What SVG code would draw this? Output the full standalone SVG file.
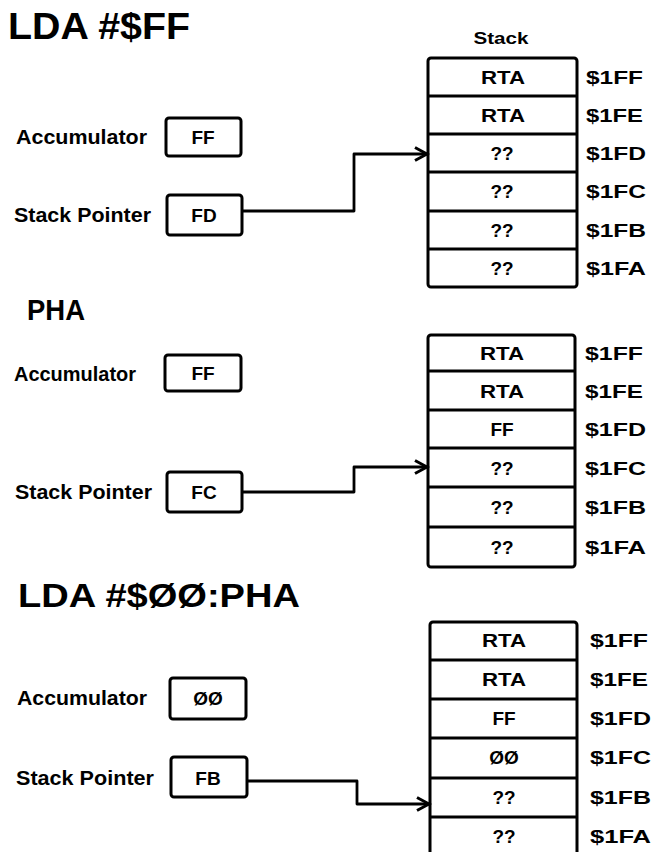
<svg xmlns="http://www.w3.org/2000/svg" width="655" height="852" viewBox="0 0 655 852">
<defs>
<marker id="arr" markerWidth="16" markerHeight="16" refX="13" refY="8" orient="auto" markerUnits="userSpaceOnUse">
<path d="M1,1.5 L13,8 L1,14.5" fill="none" stroke="#000" stroke-width="3" stroke-linejoin="miter"/>
</marker>
</defs>
<style>
text{font-family:"Liberation Sans",Arial,sans-serif;font-weight:bold;fill:#000}
.title{font-size:37px}
.lbl{font-size:20px}
.val{font-size:19px;text-anchor:middle}
.addr{font-size:19px}
.box{fill:#fff;stroke:#000;stroke-width:3}
.div{stroke:#000;stroke-width:3}
.conn{fill:none;stroke:#000;stroke-width:2.8;stroke-linejoin:round}
</style>
<rect width="655" height="852" fill="#fff"/>

<!-- Section 1 -->
<text class="title" x="8" y="39" textLength="182" lengthAdjust="spacingAndGlyphs">LDA #$FF</text>
<g id="stack-label-1"><text x="501" y="44" style="font-size:17px;text-anchor:middle" textLength="55" lengthAdjust="spacingAndGlyphs">Stack</text></g>
<g id="acc1">
<text class="lbl" x="16" y="144" textLength="131" lengthAdjust="spacingAndGlyphs">Accumulator</text>
<rect class="box" x="166" y="118" width="75" height="38" rx="3"/>
<text class="val" x="203" y="144">FF</text>
</g>
<g id="sp1">
<text class="lbl" x="14" y="222" textLength="137" lengthAdjust="spacingAndGlyphs">Stack Pointer</text>
<rect class="box" x="167" y="195" width="75" height="40" rx="3"/>
<text class="val" x="204" y="222">FD</text>
</g>
<g id="stack1">
<rect class="box" x="428" y="58" width="149" height="229" rx="3"/>
<line class="div" x1="428" y1="96" x2="577" y2="96"/>
<line class="div" x1="428" y1="134" x2="577" y2="134"/>
<line class="div" x1="428" y1="172" x2="577" y2="172"/>
<line class="div" x1="428" y1="211" x2="577" y2="211"/>
<line class="div" x1="428" y1="249" x2="577" y2="249"/>
<text class="val" x="503" y="84" textLength="44" lengthAdjust="spacingAndGlyphs">RTA</text>
<text class="val" x="503" y="122" textLength="44" lengthAdjust="spacingAndGlyphs">RTA</text>
<text class="val" x="502" y="160">??</text>
<text class="val" x="502" y="198">??</text>
<text class="val" x="502" y="237">??</text>
<text class="val" x="502" y="275">??</text>
<text class="addr" x="586" y="84" textLength="57" lengthAdjust="spacingAndGlyphs">$1FF</text>
<text class="addr" x="586" y="122" textLength="57" lengthAdjust="spacingAndGlyphs">$1FE</text>
<text class="addr" x="586" y="160" textLength="60" lengthAdjust="spacingAndGlyphs">$1FD</text>
<text class="addr" x="586" y="198" textLength="60" lengthAdjust="spacingAndGlyphs">$1FC</text>
<text class="addr" x="586" y="237" textLength="60" lengthAdjust="spacingAndGlyphs">$1FB</text>
<text class="addr" x="586" y="275" textLength="60" lengthAdjust="spacingAndGlyphs">$1FA</text>
</g>

<!-- Section 2 -->
<text class="title" x="27" y="320" style="font-size:30px" textLength="58" lengthAdjust="spacingAndGlyphs">PHA</text>
<g id="acc2">
<text class="lbl" x="14" y="381" textLength="122" lengthAdjust="spacingAndGlyphs">Accumulator</text>
<rect class="box" x="165" y="355" width="76" height="36" rx="3"/>
<text class="val" x="203" y="380">FF</text>
</g>
<g id="sp2">
<text class="lbl" x="15" y="499" textLength="137" lengthAdjust="spacingAndGlyphs">Stack Pointer</text>
<rect class="box" x="167" y="472" width="75" height="40" rx="3"/>
<text class="val" x="204" y="499">FC</text>
</g>
<g id="stack2">
<rect class="box" x="428" y="335" width="147" height="232" rx="3"/>
<line class="div" x1="428" y1="371" x2="575" y2="371"/>
<line class="div" x1="428" y1="410" x2="575" y2="410"/>
<line class="div" x1="428" y1="448" x2="575" y2="448"/>
<line class="div" x1="428" y1="487" x2="575" y2="487"/>
<line class="div" x1="428" y1="527" x2="575" y2="527"/>
<text class="val" x="502" y="360" textLength="44" lengthAdjust="spacingAndGlyphs">RTA</text>
<text class="val" x="502" y="398" textLength="44" lengthAdjust="spacingAndGlyphs">RTA</text>
<text class="val" x="502" y="436">FF</text>
<text class="val" x="502" y="475">??</text>
<text class="val" x="502" y="514">??</text>
<text class="val" x="502" y="554">??</text>
<text class="addr" x="585" y="360" textLength="58" lengthAdjust="spacingAndGlyphs">$1FF</text>
<text class="addr" x="585" y="398" textLength="58" lengthAdjust="spacingAndGlyphs">$1FE</text>
<text class="addr" x="585" y="436" textLength="61" lengthAdjust="spacingAndGlyphs">$1FD</text>
<text class="addr" x="585" y="475" textLength="61" lengthAdjust="spacingAndGlyphs">$1FC</text>
<text class="addr" x="585" y="514" textLength="61" lengthAdjust="spacingAndGlyphs">$1FB</text>
<text class="addr" x="585" y="554" textLength="61" lengthAdjust="spacingAndGlyphs">$1FA</text>
</g>

<!-- Section 3 -->
<text class="title" x="18" y="607" style="font-size:34px" textLength="282" lengthAdjust="spacingAndGlyphs">LDA #$ØØ:PHA</text>
<g id="acc3">
<text class="lbl" x="17" y="705" textLength="130" lengthAdjust="spacingAndGlyphs">Accumulator</text>
<rect class="box" x="170" y="678" width="76" height="41" rx="3"/>
<text class="val" x="208" y="705">ØØ</text>
</g>
<g id="sp3">
<text class="lbl" x="16" y="785" textLength="138" lengthAdjust="spacingAndGlyphs">Stack Pointer</text>
<rect class="box" x="171" y="757" width="76" height="40" rx="3"/>
<text class="val" x="208" y="785">FB</text>
</g>
<g id="stack3">
<rect class="box" x="430" y="622" width="147" height="250" rx="3"/>
<line class="div" x1="430" y1="660" x2="577" y2="660"/>
<line class="div" x1="430" y1="699" x2="577" y2="699"/>
<line class="div" x1="430" y1="738" x2="577" y2="738"/>
<line class="div" x1="430" y1="778" x2="577" y2="778"/>
<line class="div" x1="430" y1="817" x2="577" y2="817"/>
<text class="val" x="504" y="647" textLength="44" lengthAdjust="spacingAndGlyphs">RTA</text>
<text class="val" x="504" y="686" textLength="44" lengthAdjust="spacingAndGlyphs">RTA</text>
<text class="val" x="504" y="725">FF</text>
<text class="val" x="504" y="764">ØØ</text>
<text class="val" x="504" y="804">??</text>
<text class="val" x="504" y="843">??</text>
<text class="addr" x="590" y="647" textLength="58" lengthAdjust="spacingAndGlyphs">$1FF</text>
<text class="addr" x="590" y="686" textLength="58" lengthAdjust="spacingAndGlyphs">$1FE</text>
<text class="addr" x="590" y="725" textLength="61" lengthAdjust="spacingAndGlyphs">$1FD</text>
<text class="addr" x="590" y="764" textLength="61" lengthAdjust="spacingAndGlyphs">$1FC</text>
<text class="addr" x="590" y="804" textLength="61" lengthAdjust="spacingAndGlyphs">$1FB</text>
<text class="addr" x="590" y="843" textLength="61" lengthAdjust="spacingAndGlyphs">$1FA</text>
</g>

<g id="connectors">
<path class="conn" d="M242,211 H354 V154 H427" marker-end="url(#arr)"/>
<path class="conn" d="M242,492 H354 V467 H427" marker-end="url(#arr)"/>
<path class="conn" d="M247,781 H357 V804 H429" marker-end="url(#arr)"/>
</g>
</svg>
